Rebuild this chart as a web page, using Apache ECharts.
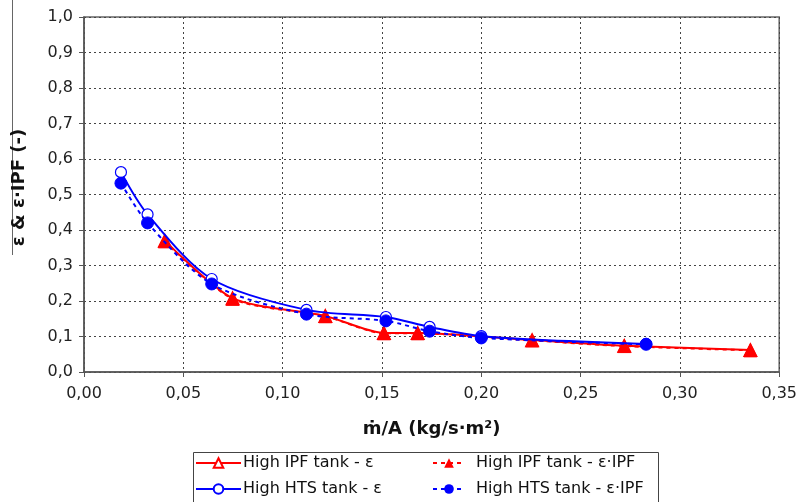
<!DOCTYPE html>
<html>
<head>
<meta charset="utf-8">
<script src="https://cdn.jsdelivr.net/npm/echarts@6/dist/echarts.min.js"></script>
<style>
  html, body { margin: 0; padding: 0; background: #fff; }
  #chart { width: 800px; height: 502px; }
</style>
</head>
<body>
<div id="chart"></div>
<script>
// Mass flux per unit area (kg/s·m²) and effectiveness values
const ipfX       = [0.0407, 0.0748, 0.1215, 0.151, 0.168, 0.2256, 0.272, 0.3355];
const ipfEps     = [0.370, 0.208, 0.158, 0.110, 0.110, 0.090, 0.074, 0.062];
const ipfEpsIpf  = [0.368, 0.206, 0.157, 0.109, 0.109, 0.089, 0.073, 0.061];

const htsX       = [0.0186, 0.032, 0.0643, 0.112, 0.152, 0.174, 0.200, 0.283];
const htsEps     = [0.563, 0.444, 0.262, 0.175, 0.155, 0.127, 0.101, 0.079];
const htsEpsIpf  = [0.532, 0.420, 0.248, 0.163, 0.144, 0.115, 0.096, 0.078];

const xTicks = ['0,00','0,05','0,10','0,15','0,20','0,25','0,30','0,35'];

const seriesNames = [
  'High IPF tank - ε',
  'High IPF tank - ε·IPF',
  'High HTS tank - ε',
  'High HTS tank - ε·IPF'
];

const RED = '#ff0000';
const BLUE = '#0000ff';
const FONT = '"DejaVu Sans", "Liberation Sans", Arial, sans-serif';

function pairs(xs, ys) { return xs.map((x, i) => [x, ys[i]]); }

const chart = echarts.init(document.getElementById('chart'), null, { renderer: 'canvas' });

const legendText = { fontSize: 16, color: '#111', fontFamily: FONT, lineHeight: 16 };

chart.setOption({
  animation: false,
  backgroundColor: '#ffffff',
  textStyle: { fontFamily: FONT },
  grid: {
    left: 84, right: 19, top: 17, bottom: 130,
    show: true, borderColor: '#666', borderWidth: 1.5
  },
  xAxis: {
    type: 'value', min: 0, max: 0.35, interval: 0.05,
    name: 'ṁ/A (kg/s·m²)',
    nameLocation: 'middle', nameGap: 48,
    nameTextStyle: { fontSize: 18, fontWeight: 'bold', color: '#111', fontFamily: FONT },
    axisLine: { lineStyle: { color: '#555', width: 1.5 } },
    axisTick: { show: true, length: 5, lineStyle: { color: '#555' } },
    axisLabel: {
      fontSize: 16, color: '#222', margin: 14,
      formatter: (v) => xTicks[Math.round(v / 0.05)]
    },
    splitLine: { show: true, lineStyle: { color: '#444', type: [2, 3], width: 1 } }
  },
  yAxis: {
    type: 'value', min: 0, max: 1, interval: 0.1,
    name: 'ε & ε·IPF (-)',
    nameLocation: 'middle', nameGap: 56, nameRotate: 90,
    nameTextStyle: {
      fontSize: 18, fontWeight: 'bold', color: '#111', fontFamily: FONT,
      padding: [0, 0, 0, 14]
    },
    axisLine: { show: true, lineStyle: { color: '#555', width: 1.5 } },
    axisTick: { show: true, length: 5, lineStyle: { color: '#555' } },
    axisLabel: {
      fontSize: 16, color: '#222', margin: 11,
      formatter: (v) => v.toFixed(1).replace('.', ',')
    },
    splitLine: { show: true, lineStyle: { color: '#444', type: [2, 3], width: 1 } }
  },
  legend: [
    {
      orient: 'vertical', left: 195, top: 455, height: 80, padding: 0,
      itemWidth: 45, itemHeight: 12, itemGap: 10,
      textStyle: Object.assign({ padding: [0, 0, 0, -3] }, legendText),
      data: [seriesNames[0], seriesNames[2]]
    },
    {
      orient: 'vertical', left: 432, top: 455, height: 80, padding: 0,
      itemWidth: 32, itemHeight: 12, itemGap: 10,
      textStyle: Object.assign({ padding: [0, 0, 0, 6] }, legendText),
      data: [seriesNames[1], seriesNames[3]]
    }
  ],
  graphic: [
    {
      type: 'rect', silent: true,
      shape: { x: 193.5, y: 452.5, width: 465, height: 60 },
      style: { fill: 'none', stroke: '#444', lineWidth: 1 }
    },
    {
      type: 'line', silent: true,
      shape: { x1: 12.5, y1: 0, x2: 12.5, y2: 255 },
      style: { stroke: '#666', lineWidth: 1 }
    }
  ],
  series: [
    {
      name: seriesNames[0], type: 'line', smooth: 0.25,
      data: pairs(ipfX, ipfEps),
      symbol: 'triangle', symbolSize: 13,
      lineStyle: { color: RED, width: 2 },
      itemStyle: { color: '#fff', borderColor: RED, borderWidth: 1.2 },
      z: 2
    },
    {
      name: seriesNames[1], type: 'line', smooth: 0.25,
      data: pairs(ipfX, ipfEpsIpf),
      symbol: 'triangle', symbolSize: 13,
      lineStyle: { color: RED, width: 2, type: [4, 4] },
      itemStyle: { color: RED, borderColor: RED },
      z: 3
    },
    {
      name: seriesNames[2], type: 'line', smooth: 0.3,
      data: pairs(htsX, htsEps),
      symbol: 'circle', symbolSize: 11,
      lineStyle: { color: BLUE, width: 2 },
      itemStyle: { color: '#fff', borderColor: BLUE, borderWidth: 1.2 },
      z: 4
    },
    {
      name: seriesNames[3], type: 'line', smooth: 0.3,
      data: pairs(htsX, htsEpsIpf),
      symbol: 'circle', symbolSize: 12,
      lineStyle: { color: BLUE, width: 2, type: [4, 4] },
      itemStyle: { color: BLUE, borderColor: BLUE },
      z: 5
    }
  ]
});
</script>
</body>
</html>
